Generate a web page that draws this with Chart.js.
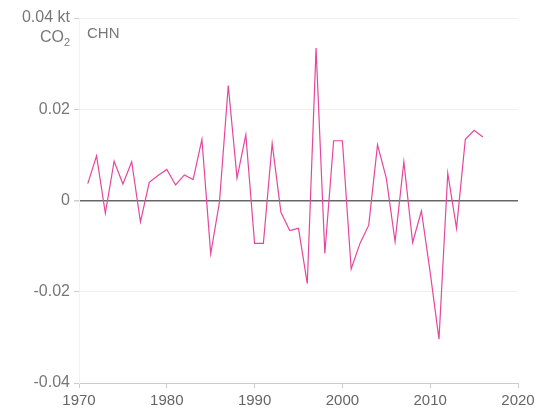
<!DOCTYPE html>
<html>
<head>
<meta charset="utf-8">
<script src="https://cdn.jsdelivr.net/npm/chart.js@4"></script>
<style>
  body { margin: 0; background: #fff; }
</style>
</head>
<body>
<canvas id="my-canvas" width="553" height="416"></canvas>
<script>
const years = [1971, 1972, 1973, 1974, 1975, 1976, 1977, 1978, 1979, 1980,
  1981, 1982, 1983, 1984, 1985, 1986, 1987, 1988, 1989, 1990,
  1991, 1992, 1993, 1994, 1995, 1996, 1997, 1998, 1999, 2000,
  2001, 2002, 2003, 2004, 2005, 2006, 2007, 2008, 2009, 2010,
  2011, 2012, 2013, 2014, 2015, 2016];
const values = [0.0037, 0.0098, -0.0028, 0.0086, 0.0036, 0.0085, -0.0047, 0.0040, 0.0055, 0.0068,
  0.0034, 0.0056, 0.0046, 0.0134, -0.0117, -0.0003, 0.0252, 0.0049, 0.0144, -0.0094,
  -0.0094, 0.0125, -0.0026, -0.0066, -0.0061, -0.0182, 0.0334, -0.0116, 0.0131, 0.0131,
  -0.0150, -0.0094, -0.0054, 0.0122, 0.0049, -0.0090, 0.0085, -0.0092, -0.0023, -0.0158,
  -0.0304, 0.0060, -0.0061, 0.0134, 0.0154, 0.0139];
const xTicks = [1970, 1980, 1990, 2000, 2010, 2020];
const yTicks = [-0.04, -0.02, 0, 0.02, 0.04];
const unitLabel = 'kt';
const countryLabel = 'CHN';

const FONT = '"Liberation Sans", Arial, sans-serif';

// draws the CO2 unit line and the country name
const extraText = {
  id: 'extraText',
  afterDraw(chart) {
    const ctx = chart.ctx;
    ctx.save();
    ctx.fillStyle = '#777';
    ctx.textBaseline = 'alphabetic';
    ctx.textAlign = 'right';
    ctx.font = '11px ' + FONT;
    ctx.fillText('2', 70, 46);
    const w2 = ctx.measureText('2').width;
    ctx.font = '16px ' + FONT;
    ctx.fillText('CO', 70 - w2, 42);
    ctx.textAlign = 'left';
    ctx.font = '15px ' + FONT;
    ctx.fillText(countryLabel, 87, 38);
    ctx.restore();
  }
};

const ctx = document.getElementById('my-canvas').getContext('2d');
const chart = new Chart(ctx, {
  type: 'line',
  data: {
    datasets: [
      {
        label: countryLabel,
        data: years.map((y, i) => ({ x: y, y: values[i] })),
        borderColor: '#e6479c',
        borderWidth: 1.2,
        pointRadius: 0,
        tension: 0,
        fill: false
      }
    ]
  },
  options: {
    responsive: false,
    animation: false,
    devicePixelRatio: 1,
    layout: { padding: { top: 18, right: 35, left: 0, bottom: 0 } },
    plugins: {
      legend: { display: false },
      tooltip: { enabled: false }
    },
    scales: {
      x: {
        type: 'linear',
        min: xTicks[0],
        max: xTicks[xTicks.length - 1],
        afterBuildTicks: scale => { scale.ticks = xTicks.map(v => ({ value: v })); },
        afterFit: scale => { scale.height = 33; },
        grid: { drawOnChartArea: false, drawTicks: true, tickLength: 5, tickColor: '#ccc' },
        border: { color: '#ccc', width: 1 },
        ticks: {
          padding: 4,
          color: '#666',
          font: { size: 15, family: FONT },
          maxRotation: 0,
          callback: v => String(v)
        }
      },
      y: {
        min: yTicks[0],
        max: yTicks[yTicks.length - 1],
        afterBuildTicks: scale => { scale.ticks = yTicks.map(v => ({ value: v })); },
        afterFit: scale => { scale.width = 79; },
        grid: {
          color: c => Math.abs(c.tick.value) < 1e-9 ? '#666' : '#f0f0f0',
          lineWidth: c => Math.abs(c.tick.value) < 1e-9 ? 1.5 : 1,
          tickLength: 5,
          tickColor: '#ccc'
        },
        border: { color: '#f2f2f2', width: 1 },
        ticks: {
          padding: 4,
          color: '#777',
          font: { size: 16, family: FONT },
          callback: v => {
            const s = String(Math.round(v * 100) / 100);
            return v === yTicks[yTicks.length - 1] ? s + ' ' + unitLabel : s;
          }
        }
      }
    }
  },
  plugins: [extraText]
}); // closes chart
</script>
</body>
</html>
